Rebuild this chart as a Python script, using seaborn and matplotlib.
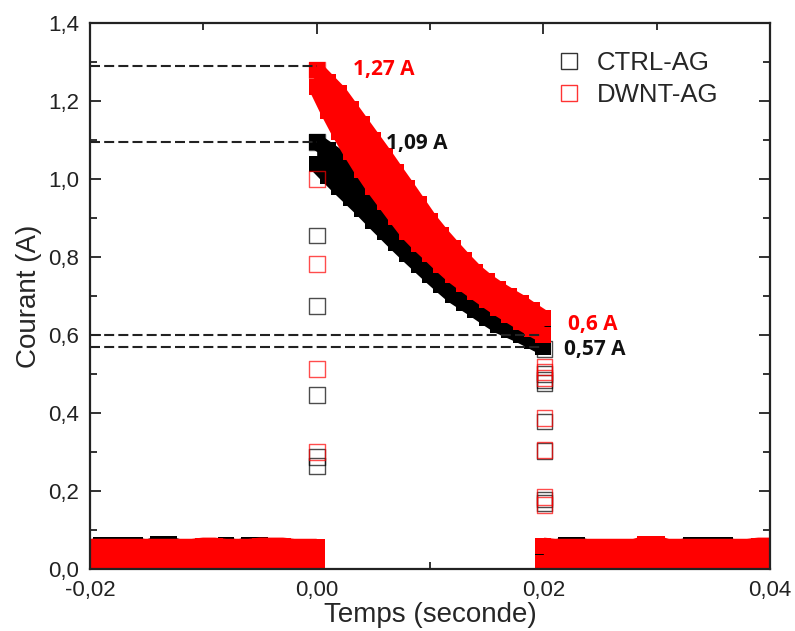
import matplotlib
matplotlib.use("Agg")
import matplotlib.pyplot as plt
import seaborn as sns
import pandas as pd
from matplotlib.lines import Line2D
from matplotlib.ticker import MultipleLocator, FixedLocator, FixedFormatter

# --- data -------------------------------------------------------------
# pulse (decay) part, time in s; upper / lower edge of each noisy cloud
t_pulse = [0.000, 0.001, 0.002, 0.003, 0.004, 0.005, 0.006, 0.007, 0.008, 0.009, 0.010,
           0.011, 0.012, 0.013, 0.014, 0.015, 0.016, 0.017, 0.018, 0.019, 0.020]
ctrl_top = [1.095, 1.075, 1.054, 1.030, 1.003, 0.975, 0.945, 0.915, 0.885, 0.855, 0.826,
            0.798, 0.772, 0.747, 0.724, 0.703, 0.683, 0.664, 0.646, 0.628, 0.610]
ctrl_bot = [1.038, 1.008, 0.979, 0.951, 0.923, 0.893, 0.864, 0.835, 0.807, 0.780, 0.753,
            0.727, 0.702, 0.683, 0.664, 0.644, 0.625, 0.612, 0.599, 0.584, 0.569]
dwnt_top = [1.280, 1.250, 1.220, 1.180, 1.140, 1.100, 1.060, 1.018, 0.977, 0.935, 0.893,
            0.857, 0.824, 0.792, 0.762, 0.738, 0.718, 0.700, 0.683, 0.663, 0.644]
dwnt_bot = [1.235, 1.175, 1.120, 1.070, 1.023, 0.980, 0.941, 0.902, 0.864, 0.834, 0.807,
            0.779, 0.753, 0.731, 0.710, 0.689, 0.669, 0.651, 0.633, 0.616, 0.600]

# baseline parts (pulse off)
t_before = [-0.020, -0.019, -0.018, -0.017, -0.016, -0.015, -0.014, -0.013, -0.012, -0.011, -0.010,
            -0.009, -0.008, -0.007, -0.006, -0.005, -0.004, -0.003, -0.002, -0.001, 0.000]
t_after = [0.020, 0.021, 0.022, 0.023, 0.024, 0.025, 0.026, 0.027, 0.028, 0.029, 0.030,
           0.031, 0.032, 0.033, 0.034, 0.035, 0.036, 0.037, 0.038, 0.039, 0.040]
ctrl_before_hi = [0.055, 0.061, 0.061, 0.061, 0.061, 0.055, 0.063, 0.063, 0.055, 0.055, 0.055,
                  0.055, 0.061, 0.055, 0.061, 0.061, 0.055, 0.055, 0.055, 0.055, 0.055]
dwnt_before_hi = [0.057, 0.057, 0.057, 0.057, 0.057, 0.057, 0.057, 0.057, 0.057, 0.057, 0.060,
                  0.060, 0.057, 0.057, 0.057, 0.060, 0.060, 0.060, 0.057, 0.057, 0.057]
ctrl_after_hi = [0.055, 0.055, 0.061, 0.061, 0.055, 0.055, 0.055, 0.055, 0.055, 0.055, 0.055,
                 0.055, 0.055, 0.061, 0.061, 0.061, 0.061, 0.055, 0.055, 0.055, 0.055]
dwnt_after_hi = [0.060, 0.057, 0.057, 0.057, 0.057, 0.057, 0.057, 0.057, 0.057, 0.064, 0.064,
                 0.057, 0.057, 0.057, 0.057, 0.057, 0.057, 0.057, 0.057, 0.060, 0.060]
base_lo = 0.015

# points on the rising / falling edges
t_on = 0.0
t_off = 0.0201
ctrl_on = [1.095, 0.855, 0.675, 0.447, 0.287, 0.265]
dwnt_on = [1.280, 1.000, 0.782, 0.513, 0.300]
ctrl_off = [0.565, 0.500, 0.485, 0.477, 0.378, 0.302, 0.178, 0.170]
dwnt_off = [0.518, 0.505, 0.490, 0.387, 0.305, 0.185, 0.165]

# dashed reference levels
ref_levels = [1.29, 1.095, 0.60, 0.57]
ref_ends = [0.0, 0.0, 0.0197, 0.0197]

# annotations: text, x, y, colour
notes = [("1,27 A", 0.0032, 1.282, "#ff0000"),
         ("1,09 A", 0.0061, 1.092, "#111111"),
         ("0,6 A", 0.0222, 0.626, "#ff0000"),
         ("0,57 A", 0.0218, 0.562, "#111111")]

series = {"CTRL-AG": "#000000", "DWNT-AG": "#ff0000"}

# --- plot ----------------------------------------------------------------
sns.set_style("ticks")
plt.rcParams["font.family"] = ["Liberation Sans", "DejaVu Sans"]

fig = plt.figure(figsize=(7.95, 6.31), dpi=100)
ax = fig.add_axes([0.1132, 0.0983, 0.8554, 0.8652])

msize = 130      # square marker area (pt^2)
mwidth = 11.5    # marker side in pt, used for the edges of the dense clouds

# dashed guide lines
for lev, end in zip(ref_levels, ref_ends):
    ax.hlines(lev, -0.02, end, colors="#222222", linestyles=(0, (4.8, 2.0)), linewidth=1.5, zorder=8)

blocks = {
    "CTRL-AG": [(t_before, [base_lo] * len(t_before), ctrl_before_hi),
                (t_pulse, ctrl_bot, ctrl_top),
                (t_after, [base_lo] * len(t_after), ctrl_after_hi)],
    "DWNT-AG": [(t_before, [base_lo] * len(t_before), dwnt_before_hi),
                (t_pulse, dwnt_bot, dwnt_top),
                (t_after, [base_lo] * len(t_after), dwnt_after_hi)],
}
edges = {"CTRL-AG": (ctrl_on, ctrl_off), "DWNT-AG": (dwnt_on, dwnt_off)}

for z, (name, col) in enumerate(series.items()):
    # thousands of overlapping open squares look like a solid band
    for tt, lo, hi in blocks[name]:
        ax.fill_between(tt, lo, hi, color=col, linewidth=0, zorder=2 + 2 * z)
        for edge in (lo, hi):
            sns.lineplot(x=tt, y=edge, color=col, linewidth=mwidth, solid_capstyle="butt",
                         solid_joinstyle="round", ax=ax, zorder=2 + 2 * z)
        df = pd.DataFrame({"t": tt + tt, "I": list(lo) + list(hi)})
        sns.scatterplot(data=df, x="t", y="I", marker="s", s=msize, color=col, linewidth=0,
                        legend=False, ax=ax, zorder=2 + 2 * z)
    on, off = edges[name]
    df = pd.DataFrame({"t": [t_on] * len(on) + [t_off] * len(off), "I": on + off})
    sns.scatterplot(data=df, x="t", y="I", marker="s", s=msize, facecolor="none",
                    edgecolor=col, linewidth=1.0, alpha=0.7, legend=False, ax=ax, zorder=3 + 2 * z)

for txt, x, y, c in notes:
    ax.text(x, y, txt, color=c, fontsize=15, fontweight="bold", va="center", ha="left",
            family=["Open Sans", "DejaVu Sans"], zorder=9)

ax.set_xlim(-0.02, 0.04)
ax.set_ylim(0, 1.4)
ax.xaxis.set_major_locator(FixedLocator([-0.02, 0.0, 0.02, 0.04]))
ax.xaxis.set_major_formatter(FixedFormatter(["-0,02", "0,00", "0,02", "0,04"]))
ax.xaxis.set_minor_locator(MultipleLocator(0.01))
ax.yaxis.set_major_locator(FixedLocator([0, 0.2, 0.4, 0.6, 0.8, 1.0, 1.2, 1.4]))
ax.yaxis.set_major_formatter(FixedFormatter(["0,0", "0,2", "0,4", "0,6", "0,8", "1,0", "1,2", "1,4"]))
ax.yaxis.set_minor_locator(MultipleLocator(0.1))

ax.tick_params(which="both", direction="in", top=True, right=True, colors="#222222",
               labelsize=16, width=1.3, pad=8)
ax.tick_params(which="major", length=8)
ax.tick_params(which="minor", length=5)
for sp in ax.spines.values():
    sp.set_linewidth(1.6)
    sp.set_color("#222222")
    sp.set_visible(True)
    sp.set_zorder(10)

ax.set_xlabel("Temps (seconde)", fontsize=20, labelpad=1)
ax.set_ylabel("Courant (A)", fontsize=20, labelpad=4)

handles = [Line2D([], [], marker="s", linestyle="none", markerfacecolor="none",
                  markeredgecolor=c, markersize=11.5, markeredgewidth=1.0, alpha=0.8)
           for c in series.values()]
ax.legend(handles, list(series.keys()), loc="upper left", bbox_to_anchor=(0.666, 0.972),
          frameon=False, fontsize=18.5, handlelength=1.0, handletextpad=0.6,
          borderpad=0, labelspacing=0.3)

fig.savefig("out.png", dpi=100)
